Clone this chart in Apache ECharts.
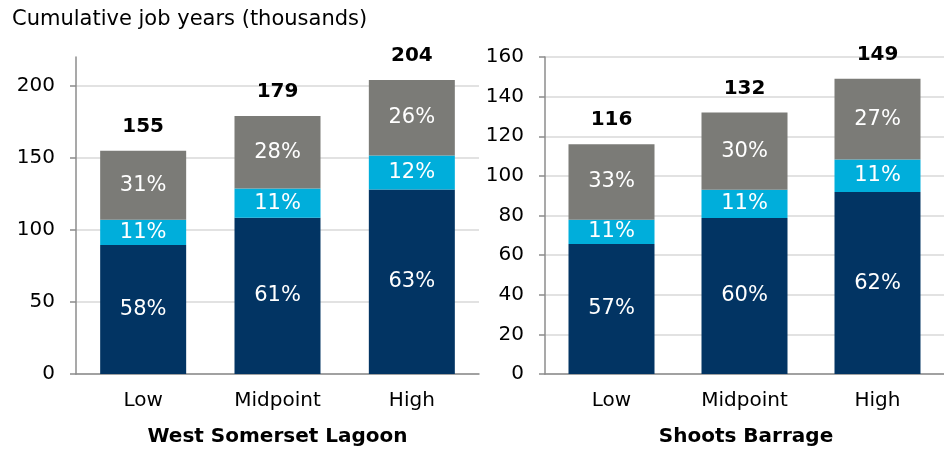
<!DOCTYPE html>
<html>
<head>
<meta charset="utf-8">
<script src="https://cdn.jsdelivr.net/npm/echarts@6/dist/echarts.min.js"></script>
<style>
  html, body { margin: 0; padding: 0; background: #ffffff; }
  #chart { width: 944px; height: 455px; }
</style>
</head>
<body>
<div id="chart"></div>
<script>
// Scenario categories shared by both panels
const categories = ['Low', 'Midpoint', 'High'];
const panelNames = ['West Somerset Lagoon', 'Shoots Barrage'];
const yTitle = 'Cumulative job years (thousands)';

// Stacked components, bottom to top (thousands of job years)
const lagoonBottom = [89.5, 108.5, 128.0];
const lagoonMiddle = [17.5, 20.2, 23.6];
const lagoonTop = [48.0, 50.3, 52.4];
const barrageBottom = [65.6, 78.7, 91.8];
const barrageMiddle = [12.3, 14.3, 16.5];
const barrageTop = [38.1, 39.0, 40.7];

// Value-axis tick labels
const lagoonTicks = [0, 50, 100, 150, 200];
const barrageTicks = [0, 20, 40, 60, 80, 100, 120, 140, 160];

const FONT = 'DejaVu Sans';
const colors = ['#023463', '#00AEDB', '#7B7B77'];
const axisGrey = '#8C8C8C';
const gridGrey = '#D9D9D9';

function sumStack(a, b, c) {
  return a.map((v, i) => v + b[i] + c[i]);
}
const lagoonTotals = sumStack(lagoonBottom, lagoonMiddle, lagoonTop);
const barrageTotals = sumStack(barrageBottom, barrageMiddle, barrageTop);

function panelSeries(idx, parts, totals) {
  const stack = 'panel' + idx;
  const out = parts.map((values, k) => ({
    type: 'bar',
    xAxisIndex: idx,
    yAxisIndex: idx,
    stack: stack,
    barWidth: 86,
    data: values,
    itemStyle: { color: colors[k] },
    label: {
      show: true,
      position: 'inside',
      color: '#ffffff',
      fontFamily: FONT,
      fontSize: 21,
      formatter: p => Math.round(p.value / totals[p.dataIndex] * 100) + '%'
    },
    emphasis: { disabled: true },
    animation: false
  }));
  // Zero-height cap that carries the stack total above each bar
  out.push({
    type: 'bar',
    xAxisIndex: idx,
    yAxisIndex: idx,
    stack: stack,
    barWidth: 86,
    data: totals.map(() => 0),
    itemStyle: { color: 'transparent' },
    label: {
      show: true,
      position: 'top',
      distance: 14,
      color: '#000000',
      fontFamily: FONT,
      fontWeight: 'bold',
      fontSize: 20,
      formatter: p => String(Math.round(totals[p.dataIndex]))
    },
    emphasis: { disabled: true },
    animation: false
  });
  return out;
}

function valueAxis(idx, ticks) {
  const step = ticks[1] - ticks[0];
  return {
    type: 'value',
    gridIndex: idx,
    min: 0,
    max: idx === 0 ? 220 : ticks[ticks.length - 1],
    interval: step,
    axisLine: { show: true, lineStyle: { color: axisGrey, width: 1.5 } },
    axisTick: { show: true, length: 6, customValues: ticks, lineStyle: { color: axisGrey, width: 1.5 } },
    axisLabel: {
      customValues: ticks,
      margin: 21,
      color: '#000000',
      fontFamily: FONT,
      fontSize: 20
    },
    splitLine: { show: true, lineStyle: { color: gridGrey, width: 1.5 } }
  };
}

function categoryAxis(idx) {
  return {
    type: 'category',
    gridIndex: idx,
    data: categories,
    axisLine: { show: true, lineStyle: { color: axisGrey, width: 1.5 } },
    axisTick: { show: false },
    axisLabel: {
      margin: 17,
      color: '#000000',
      fontFamily: FONT,
      fontSize: 20
    }
  };
}

const chart = echarts.init(document.getElementById('chart'), null, { renderer: 'canvas' });
chart.setOption({
  backgroundColor: '#ffffff',
  animation: false,
  grid: [
    { left: 76, top: 57, width: 403, height: 317 },
    { left: 545, top: 57, width: 403, height: 317 }
  ],
  xAxis: [categoryAxis(0), categoryAxis(1)],
  yAxis: [valueAxis(0, lagoonTicks), valueAxis(1, barrageTicks)],
  series: [
    ...panelSeries(0, [lagoonBottom, lagoonMiddle, lagoonTop], lagoonTotals),
    ...panelSeries(1, [barrageBottom, barrageMiddle, barrageTop], barrageTotals)
  ],
  graphic: [
    {
      type: 'text', left: 12, top: 9,
      style: { text: yTitle, fill: '#000000', font: '21px "DejaVu Sans"' }
    },
    {
      type: 'text', x: 277.5, y: 437,
      style: { text: panelNames[0], fill: '#000000', font: 'bold 20px "DejaVu Sans"', align: 'center', verticalAlign: 'middle' }
    },
    {
      type: 'text', x: 746, y: 437,
      style: { text: panelNames[1], fill: '#000000', font: 'bold 20px "DejaVu Sans"', align: 'center', verticalAlign: 'middle' }
    }
  ]
});
</script>
</body>
</html>
